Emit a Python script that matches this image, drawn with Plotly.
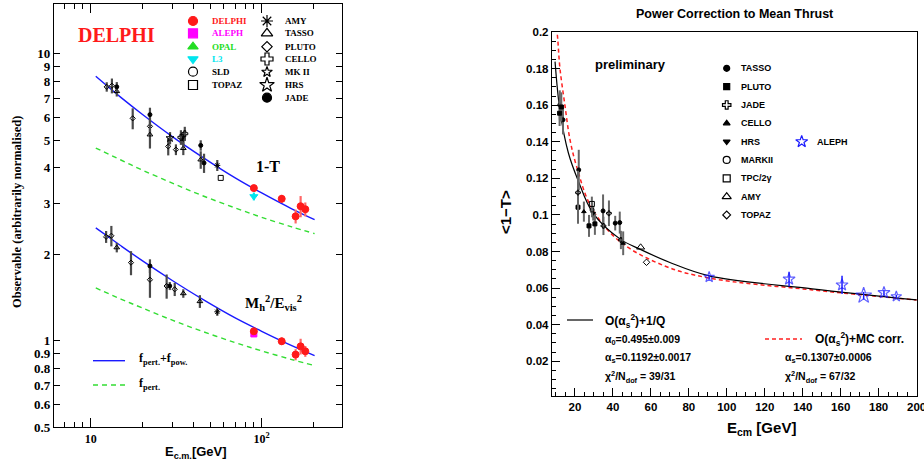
import plotly.graph_objects as go

W, H = 924, 466

# ================= LEFT PANEL DATA (DELPHI compilation) =================
# ---- 1-T ----
t_pluto_E = [12.4, 13.3, 17.6, 22.2, 28.4, 31.5]
t_pluto_v = [7.66, 7.73, 5.95, 5.58, 4.75, 4.63]
t_pluto_e = [0.29, 0.46, 0.50, 0.40, 0.33, 0.20]
t_tasso_E = [14.2, 22.2, 34.8, 44.0]
t_tasso_v = [7.39, 5.22, 4.68, 4.27]
t_tasso_e = [0.30, 0.55, 0.25, 0.30]
t_jade_E = [14.2, 22.2, 34.8, 44.0, 46.0]
t_jade_v = [7.66, 6.13, 5.04, 4.79, 4.16]
t_jade_e = [0.30, 0.35, 0.30, 0.20, 0.32]
t_mk2_E = [29.1]
t_mk2_v = [5.08]
t_mk2_e = [0.25]
t_cello_E = [33.7, 35.5]
t_cello_v = [5.11, 5.26]
t_cello_e = [0.30, 0.30]
t_amy_E = [55.0]
t_amy_v = [4.08]
t_amy_e = [0.18]
t_topaz_E = [57.6]
t_topaz_v = [3.69]
t_l3_E = [90.0]
t_l3_v = [3.18]
t_l3_e = [0.10]
t_delphi_E = [90.0, 131.0, 158.0, 169.0, 180.0]
t_delphi_v = [3.40, 3.12, 2.71, 2.94, 2.87]
t_delphi_e = [0.05, 0.10, 0.15, 0.25, 0.16]
# fitted curves
t_curve_E = [10.7, 15, 20, 30, 45, 70, 100, 150, 204]
t_fit_v = [8.34, 7.04, 6.15, 5.14, 4.36, 3.69, 3.27, 2.88, 2.64]
t_pert_v = [4.69, 4.26, 3.93, 3.54, 3.20, 2.90, 2.69, 2.49, 2.36]

# ---- M_h^2/E_vis^2 ----
m_pluto_E = [12.3, 13.2, 17.2, 22.2, 27.8, 31.0]
m_pluto_v = [2.30, 2.32, 1.87, 1.63, 1.55, 1.51]
m_pluto_e = [0.11, 0.19, 0.18, 0.22, 0.15, 0.08]
m_tasso_E = [14.2, 34.8, 43.5]
m_tasso_v = [2.11, 1.46, 1.37]
m_tasso_e = [0.08, 0.05, 0.07]
m_jade_E = [22.2, 29.0]
m_jade_v = [1.82, 1.55]
m_jade_e = [0.10, 0.05]
m_amy_E = [55.0]
m_amy_v = [1.26]
m_amy_e = [0.04]
m_aleph_E = [90.0]
m_aleph_v = [1.055]
m_delphi_E = [90.0, 131.0, 158.0, 169.0, 180.0]
m_delphi_v = [1.078, 0.995, 0.894, 0.955, 0.918]
m_delphi_e = [0.02, 0.03, 0.04, 0.06, 0.04]
m_curve_E = [10.7, 15, 20, 30, 45, 70, 100, 150, 204]
m_fit_v = [2.47, 2.14, 1.90, 1.62, 1.395, 1.20, 1.078, 0.961, 0.887]
m_pert_v = [1.526, 1.396, 1.30, 1.178, 1.077, 0.984, 0.921, 0.859, 0.819]

left_yticks = [0.5, 0.6, 0.7, 0.8, 0.9, 1, 2, 3, 4, 5, 6, 7, 8, 9, 10]
left_xticks = [10, 100]
left_xticklabels = ["10", "10<sup>2</sup>"]

# ================= RIGHT PANEL DATA (mean thrust) =================
r_tasso_E = [12.0, 13.7, 22.0, 34.8, 41.2, 43.6]
r_tasso_v = [0.1601, 0.1520, 0.1246, 0.1022, 0.0955, 0.0958]
r_tasso_e = [0.008, 0.008, 0.011, 0.009, 0.004, 0.006]
r_pluto_E = [11.9, 12.8, 21.6, 27.4, 30.5]
r_pluto_v = [0.1556, 0.1590, 0.1042, 0.0940, 0.0951]
r_pluto_e = [0.007, 0.008, 0.009, 0.006, 0.006]
r_jade_E = [21.6, 35.0, 37.9, 44.2]
r_jade_v = [0.1122, 0.0940, 0.1009, 0.0863]
r_jade_e = [0.012, 0.005, 0.007, 0.005]
r_cello_E = [24.7, 45.4]
r_cello_v = [0.1018, 0.0845]
r_cello_e = [0.0055, 0.0065]
r_hrs_E = [29.6]
r_hrs_v = [0.1009]
r_hrs_e = [0.004]
r_markii_E = [29.0]
r_markii_v = [0.1027]
r_markii_e = [0.004]
r_tpc_E = [28.9]
r_tpc_v = [0.1060]
r_tpc_e = [0.004]
r_amy_E = [54.6]
r_amy_v = [0.0823]
r_topaz_E = [57.7]
r_topaz_v = [0.0741]
r_aleph_E = [90.7, 132.8, 160.7, 172.1, 182.8, 189.3]
r_aleph_v = [0.0660, 0.0649, 0.0617, 0.0559, 0.0575, 0.0554]
r_aleph_e = [0.001, 0.004, 0.005, 0.002, 0.0015, 0.001]
r_aleph_size = [8, 9, 9, 12, 9, 8]
r_fit_E = [9.5, 12.1, 16.5, 21.6, 29.5, 43.7, 55, 70, 90.7, 145, 200]
r_fit_v = [0.1838, 0.157, 0.134, 0.119, 0.101, 0.0869, 0.0809, 0.074, 0.0667, 0.0596, 0.0535]
r_mc_E = [9.8, 11.0, 12.1, 14.7, 17.4, 20.9, 28.8, 43.7, 68, 90.7, 145, 200]
r_mc_v = [0.210, 0.195, 0.180, 0.160, 0.141, 0.1264, 0.1038, 0.0854, 0.0718, 0.0655, 0.059, 0.0535]

right_yticks = [0.02, 0.04, 0.06, 0.08, 0.1, 0.12, 0.14, 0.16, 0.18, 0.2]
right_xticks = [20, 40, 60, 80, 100, 120, 140, 160, 180, 200]

# ================= FIGURE =================
fig = go.Figure()
SERIF = "Liberation Serif"
SANS = "Liberation Sans"
GRAY = "#4a4a4a"


def pts(x, y, e=None, sym="circle", color="black", size=5, ecolor=GRAY, ax="", lw=1, eth=2.2):
    tr = go.Scatter(
        x=x, y=y, mode="markers",
        marker=dict(symbol=sym, color=color, size=size, line=dict(color=color, width=lw)),
        xaxis="x" + ax, yaxis="y" + ax, showlegend=False, hoverinfo="skip",
    )
    if e is not None:
        tr.error_y = dict(type="data", array=e, visible=True, color=ecolor, thickness=eth, width=0)
    fig.add_trace(tr)


def curve(x, y, col, dash, width=1.4, ax=""):
    fig.add_trace(go.Scatter(x=x, y=y, mode="lines",
                             line=dict(color=col, width=width, dash=dash, shape="spline"),
                             xaxis="x" + ax, yaxis="y" + ax, showlegend=False, hoverinfo="skip"))


# --- left curves
curve(t_curve_E, t_pert_v, "#33dd33", "5px,4px")
curve(m_curve_E, m_pert_v, "#33dd33", "5px,4px")
curve(t_curve_E, t_fit_v, "#1a1aff", "solid")
curve(m_curve_E, m_fit_v, "#1a1aff", "solid")

# --- left points: 1-T
pts(t_pluto_E, t_pluto_v, t_pluto_e, "diamond-open", size=4)
pts(t_tasso_E, t_tasso_v, t_tasso_e, "triangle-up-open", size=5)
pts(t_jade_E, t_jade_v, t_jade_e, "circle", size=4)
pts(t_mk2_E, t_mk2_v, t_mk2_e, "star-open", size=6)
pts(t_cello_E, t_cello_v, t_cello_e, "cross-open", size=5)
pts(t_amy_E, t_amy_v, t_amy_e, "asterisk-open", size=5)
pts(t_topaz_E, t_topaz_v, None, "square-open", size=5)
pts(t_l3_E, t_l3_v, t_l3_e, "triangle-down", color="#00e5ee", size=7, ecolor="#00e5ee")
pts(t_delphi_E, t_delphi_v, t_delphi_e, "circle", color="#ff1a1a", size=7, ecolor="#ff6666")
# --- left points: Mh2/Evis2
pts(m_pluto_E, m_pluto_v, m_pluto_e, "diamond-open", size=4)
pts(m_tasso_E, m_tasso_v, m_tasso_e, "triangle-up-open", size=5)
pts(m_jade_E, m_jade_v, m_jade_e, "circle", size=4)
pts(m_amy_E, m_amy_v, m_amy_e, "asterisk-open", size=5)
pts(m_aleph_E, m_aleph_v, None, "square", color="#ff00ff", size=6)
pts(m_delphi_E, m_delphi_v, m_delphi_e, "circle", color="#ff1a1a", size=7, ecolor="#ff6666")

# --- right curves
curve(r_mc_E, r_mc_v, "#ff2020", "4px,3px", 1.5, "2")
curve(r_fit_E, r_fit_v, "black", "solid", 1.2, "2")
# --- right points
RG = "#666666"
pts(r_tasso_E, r_tasso_v, r_tasso_e, "circle", size=4, ecolor=RG, ax="2", eth=2)
pts(r_pluto_E, r_pluto_v, r_pluto_e, "square", size=4, ecolor=RG, ax="2", eth=2)
pts(r_jade_E, r_jade_v, r_jade_e, "cross-open", size=4, ecolor=RG, ax="2", eth=2)
pts(r_cello_E, r_cello_v, r_cello_e, "triangle-up", size=4, ecolor=RG, ax="2", eth=2)
pts(r_hrs_E, r_hrs_v, r_hrs_e, "triangle-down", size=4, ecolor=RG, ax="2", eth=2)
pts(r_markii_E, r_markii_v, r_markii_e, "circle-open", size=4, ecolor=RG, ax="2", eth=2)
pts(r_tpc_E, r_tpc_v, r_tpc_e, "square-open", size=5, ecolor=RG, ax="2", eth=2)
pts(r_amy_E, r_amy_v, None, "triangle-up-open", size=7, ax="2")
pts(r_topaz_E, r_topaz_v, None, "diamond-open", size=5, ax="2")
fig.add_trace(go.Scatter(x=r_aleph_E, y=r_aleph_v, mode="markers",
                         marker=dict(symbol="star-open", color="#1a1aff", size=r_aleph_size,
                                     line=dict(color="#1a1aff", width=1.2)),
                         error_y=dict(type="data", array=r_aleph_e, color="#1a1aff", thickness=1.5, width=0),
                         xaxis="x2", yaxis="y2", showlegend=False, hoverinfo="skip"))

# ================= legend marker overlays (pixel space overlay axis) =================
def lm(x, y, sym, color, size, lw=1.2):
    fig.add_trace(go.Scatter(x=[x], y=[y], mode="markers",
                             marker=dict(symbol=sym, color=color, size=size, line=dict(color=color, width=lw)),
                             xaxis="x3", yaxis="y3", showlegend=False, hoverinfo="skip"))


anns = []


def txt(x, y, text, size=9, color="black", family=SERIF, xanchor="left", angle=0, weight="bold"):
    anns.append(dict(x=x / W, y=1 - y / H, xref="paper", yref="paper", text=text, showarrow=False,
                     xanchor=xanchor, yanchor="middle", textangle=angle,
                     font=dict(family=family, size=size, color=color, weight=weight)))


left_leg1 = [("DELPHI", "circle", "#ff1a1a"), ("ALEPH", "square", "#ff00ff"),
             ("OPAL", "triangle-up", "#22dd22"), ("L3", "triangle-down", "#00e5ee"),
             ("SLD", "circle-open", "black"), ("TOPAZ", "square-open", "black")]
rows1 = [21, 33.3, 46.7, 59, 71.7, 85]
for (name, sym, col), yy in zip(left_leg1, rows1):
    lm(193, yy, sym, col, 9)
    txt(210, yy, name, 9, col)
left_leg2 = [("AMY", "asterisk-open", 10), ("TASSO", "triangle-up-open", 10), ("PLUTO", "diamond-open", 8),
             ("CELLO", "cross-open", 10), ("MK II", "star-open", 8), ("HRS", "star-open", 11),
             ("JADE", "circle", 9)]
rows2 = [21, 33.3, 46.7, 59, 72, 85, 97.7]
for (name, sym, sz), yy in zip(left_leg2, rows2):
    lm(267, yy, sym, "black", sz)
    txt(283, yy, name, 9)

right_leg = [("TASSO", "circle", 6), ("PLUTO", "square", 6), ("JADE", "cross-open", 7),
             ("CELLO", "triangle-up", 6), ("HRS", "triangle-down", 6), ("MARKII", "circle-open", 7),
             ("TPC/2γ", "square-open", 7), ("AMY", "triangle-up-open", 8), ("TOPAZ", "diamond-open", 6)]
for i, (name, sym, sz) in enumerate(right_leg):
    yy = 68.3 + 18.33 * i
    lm(726.7, yy, sym, "black", sz)
    txt(739, yy, name, 9, family=SANS)
lm(801.7, 141.7, "star-open", "#1a1aff", 9)
txt(815, 141.7, "ALEPH", 9, family=SANS)

# ---- left texts
txt(117, 35, "DELPHI", 20, "#ff1a1a", xanchor="center")
txt(268, 166, "1-T", 16, xanchor="center")
txt(273, 303, "M<sub>h</sub><sup>2</sup>/E<sub>vis</sub><sup>2</sup>", 15, xanchor="center")
txt(137, 359, "f<sub>pert.</sub>+f<sub>pow.</sub>", 12)
txt(137, 384, "f<sub>pert.</sub>", 12)
txt(17, 212, "Observable (arbitrarily normalised)", 12.5, xanchor="center", angle=-90)
txt(196, 452, "E<sub>c.m.</sub>[GeV]", 13, family=SANS, xanchor="center")
# ---- right texts
txt(735, 14, "Power Correction to Mean Thrust", 12.5, family=SANS, xanchor="center")
txt(630, 64, "preliminary", 13, family=SANS, xanchor="center")
txt(505, 212, "&lt;1−T&gt;", 15, family=SANS, xanchor="center", angle=-90)
txt(761, 428, "E<sub>cm</sub> [GeV]", 15, family=SANS, xanchor="center")
txt(603, 321, "O(α<sub>s</sub><sup>2</sup>)+1/Q", 12, family=SANS)
txt(603, 340, "α<sub>0</sub>=0.495±0.009", 10.5, family=SANS)
txt(603, 358, "α<sub>s</sub>=0.1192±0.0017", 10.5, family=SANS)
txt(603, 377, "χ<sup>2</sup>/N<sub>dof</sub> = 39/31", 10.5, family=SANS)
txt(813, 339, "O(α<sub>s</sub><sup>2</sup>)+MC corr.", 12, family=SANS)
txt(783, 358, "α<sub>s</sub>=0.1307±0.0006", 10.5, family=SANS)
txt(783, 377, "χ<sup>2</sup>/N<sub>dof</sub> = 67/32", 10.5, family=SANS)


def seg(x0, x1, y, color, dash="solid", width=1.4):
    return dict(type="line", xref="paper", yref="paper", x0=x0 / W, x1=x1 / W, y0=1 - y / H, y1=1 - y / H,
                line=dict(color=color, width=width, dash=dash))


shapes = [seg(93, 125, 360.7, "#1a1aff"), seg(93, 125, 385, "#33dd33", "5px,4px"),
          seg(567, 593, 320, "black", width=1.2), seg(765, 802, 339, "#ff2020", "4px,3px", 1.5)]

axline = dict(showline=True, linecolor="black", linewidth=1.2, showgrid=False, zeroline=False,
              automargin=False, ticklabeloverflow="allow")

fig.update_layout(
    width=W, height=H, autosize=False,
    margin=dict(l=0, r=0, t=0, b=0, pad=0),
    paper_bgcolor="white", plot_bgcolor="rgba(0,0,0,0)",
    showlegend=False, hovermode=False,
    annotations=anns, shapes=shapes,
    xaxis=dict(domain=[54 / W, 342 / W], anchor="y", type="log", range=[0.785, 2.47],
               tickvals=left_xticks, ticktext=left_xticklabels, ticks="inside", ticklen=9,
               mirror="ticks", tickcolor="black",
               minor=dict(tickvals=[7, 8, 9, 20, 30, 40, 50, 60, 70, 80, 90, 200], ticks="inside",
                          ticklen=5, tickcolor="black"),
               tickfont=dict(family=SERIF, size=12, color="black", weight="bold"), **axline),
    yaxis=dict(domain=[1 - 427 / H, 1 - 4 / H], anchor="x", type="log", range=[-0.301, 1.173],
               tickvals=left_yticks, ticktext=[str(v) for v in left_yticks], ticks="inside", ticklen=6,
               mirror="ticks", tickcolor="black",
               tickfont=dict(family=SERIF, size=13, color="black", weight="bold"), **axline),
    xaxis2=dict(domain=[552 / W, 917 / W], anchor="y2", range=[7.9, 200.2],
                tickvals=right_xticks, ticks="inside", ticklen=8, mirror=True, tickcolor="black",
                minor=dict(dtick=5, tick0=0, ticks="inside", ticklen=4, tickcolor="black"),
                tickfont=dict(family=SANS, size=11.5, color="black", weight="bold"), **axline),
    yaxis2=dict(domain=[1 - 396 / H, 1 - 32 / H], anchor="x2", range=[0.001, 0.2],
                tickvals=right_yticks, ticks="inside", ticklen=8, mirror=True, tickcolor="black",
                minor=dict(dtick=0.005, tick0=0, ticks="inside", ticklen=4, tickcolor="black"),
                tickfont=dict(family=SANS, size=11.5, color="black", weight="bold"), **axline),
    xaxis3=dict(domain=[0, 1], range=[0, W], visible=False, anchor="y3", fixedrange=True, automargin=False),
    yaxis3=dict(domain=[0, 1], range=[H, 0], visible=False, anchor="x3", fixedrange=True, automargin=False),
)

fig.write_html("out.html", config={"displayModeBar": False, "staticPlot": True},
               post_script="document.body.style.margin='0px';document.body.style.overflow='hidden';")
